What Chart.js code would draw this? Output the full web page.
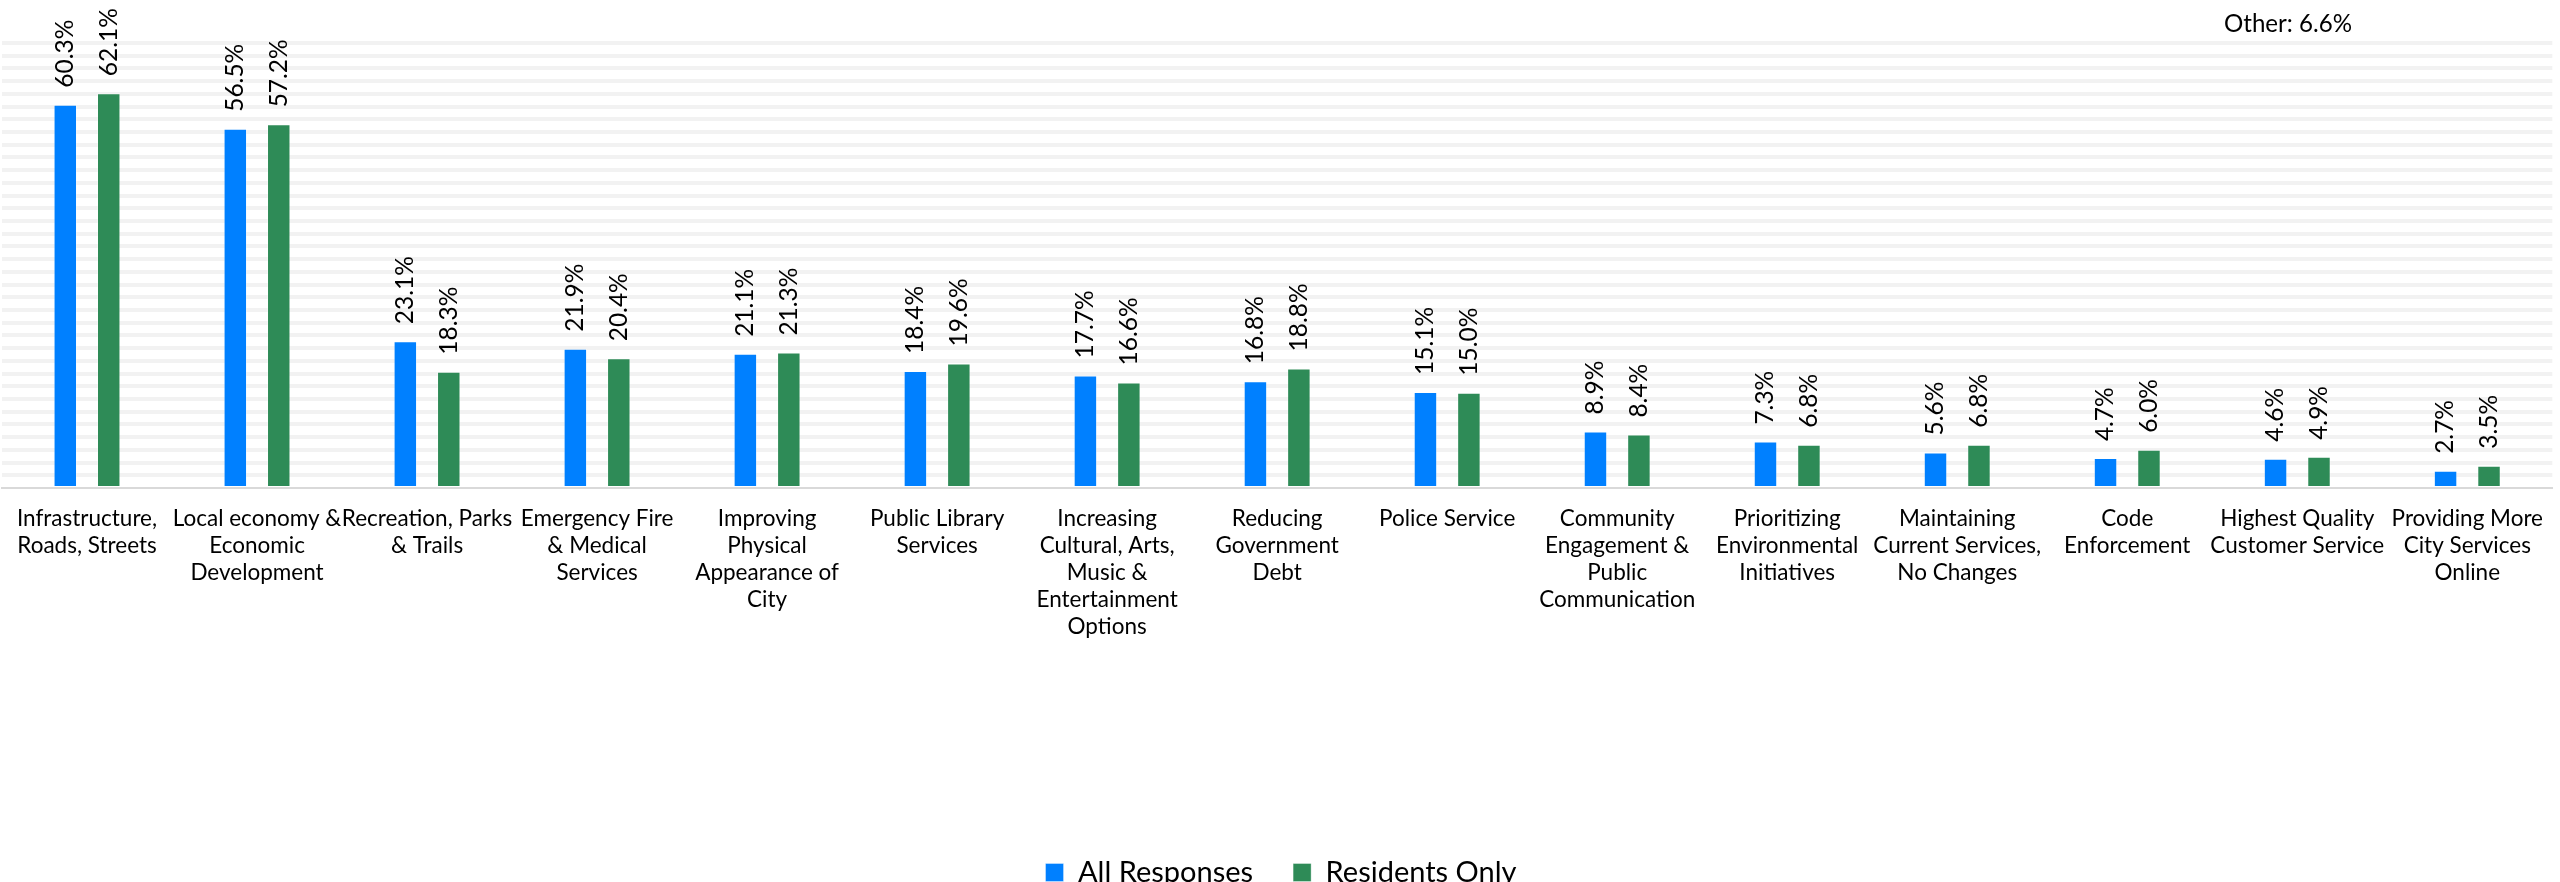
<!DOCTYPE html>
<html>
<head>
<meta charset="utf-8">
<script src="https://cdn.jsdelivr.net/npm/chart.js@4.4.1/dist/chart.umd.min.js"></script>
<style>
  html, body { margin: 0; padding: 0; background: #ffffff; overflow: hidden; }
  #wrap { position: relative; width: 2560px; height: 897px; }
</style>
</head>
<body>
<div id="wrap"><canvas id="c"></canvas></div>
<script>
// ---- data ----
const categories = [
  ["Infrastructure,", "Roads, Streets"],
  ["Local economy &", "Economic", "Development"],
  ["Recreation, Parks", "& Trails"],
  ["Emergency Fire", "& Medical", "Services"],
  ["Improving", "Physical", "Appearance of", "City"],
  ["Public Library", "Services"],
  ["Increasing", "Cultural, Arts,", "Music &", "Entertainment", "Options"],
  ["Reducing", "Government", "Debt"],
  ["Police Service"],
  ["Community", "Engagement &", "Public", "Communication"],
  ["Prioritizing", "Environmental", "Initiatives"],
  ["Maintaining", "Current Services,", "No Changes"],
  ["Code", "Enforcement"],
  ["Highest Quality", "Customer Service"],
  ["Providing More", "City Services", "Online"]
];
const allResponses = [60.3, 56.5, 23.1, 21.9, 21.1, 18.4, 17.7, 16.8, 15.1, 8.9, 7.3, 5.6, 4.7, 4.6, 2.7];
const residentsOnly = [62.1, 57.2, 18.3, 20.4, 21.3, 19.6, 16.6, 18.8, 15.0, 8.4, 6.8, 6.8, 6.0, 4.9, 3.5];
const seriesNames = ["All Responses", "Residents Only"];
const otherNote = "Other: 6.6%";

// ---- font sizing (match reference text widths) ----
const FAMILY = "Lato, 'Open Sans', sans-serif";
const mctx = document.createElement('canvas').getContext('2d');
function fit(text, target) {
  mctx.font = "100px " + FAMILY;
  return Math.round(100 * target / mctx.measureText(text).width * 10) / 10;
}
const catSize = fit("Infrastructure,", 140);
const valSize = fit("60.3%", 68);
const otherSize = fit("Other: 6.6%", 128);
const legendSize = fit("All Responses", 175);

const BLUE = '#0080FF';
const GREEN = '#2E8B57';

const valueLabels = {
  id: 'valueLabels',
  afterDatasetsDraw(chart) {
    const ctx = chart.ctx;
    ctx.save();
    ctx.fillStyle = '#000';
    ctx.font = valSize + "px " + FAMILY;
    ctx.textAlign = 'left';
    ctx.textBaseline = 'middle';
    chart.data.datasets.forEach((ds, di) => {
      const meta = chart.getDatasetMeta(di);
      meta.data.forEach((bar, i) => {
        ctx.save();
        ctx.translate(bar.x, bar.y - 17);
        ctx.rotate(-Math.PI / 2);
        ctx.fillText(ds.data[i].toFixed(1) + '%', 0, 0);
        ctx.restore();
      });
    });
    // note at top right
    ctx.font = otherSize + "px " + FAMILY;
    ctx.textAlign = 'right';
    ctx.textBaseline = 'middle';
    ctx.fillText(otherNote, chart.width - 208, 24);
    ctx.restore();
  }
};

new Chart(document.getElementById('c'), {
  type: 'bar',
  data: {
    labels: categories,
    datasets: [
      { label: seriesNames[0], data: allResponses, backgroundColor: BLUE,
        borderColor: 'rgba(255,255,255,0.35)', borderWidth: 1,
        categoryPercentage: 0.511, barPercentage: 0.54 },
      { label: seriesNames[1], data: residentsOnly, backgroundColor: GREEN,
        borderColor: 'rgba(255,255,255,0.35)', borderWidth: 1,
        categoryPercentage: 0.511, barPercentage: 0.54 }
    ]
  },
  options: {
    responsive: true,
    maintainAspectRatio: false,
    animation: false,
    layout: { padding: { top: 43, left: 2, right: 0, bottom: 0 } },
    plugins: {
      legend: {
        position: 'bottom',
        align: 'center',
        labels: {
          boxWidth: 18, boxHeight: 18, padding: 40,
          color: '#000',
          font: { family: FAMILY, size: legendSize }
        }
      },
      title: { display: false },
      tooltip: { enabled: false }
    },
    scales: {
      x: {
        grid: { display: false, drawTicks: false },
        border: { display: true, color: '#d9d9d9', width: 2 },
        ticks: {
          autoSkip: false, maxRotation: 0, minRotation: 0,
          padding: 17, color: '#000',
          font: { family: FAMILY, size: catSize, lineHeight: 1.2 }
        },
        afterFit(s) { s.height = 330; }
      },
      y: {
        min: 0, max: 70,
        border: { display: false },
        grid: {
          drawTicks: false,
          lineWidth: 4,
          color: (c) => (c.tick && c.tick.value === 0) ? 'rgba(0,0,0,0)' : '#f2f2f2'
        },
        ticks: { display: false, stepSize: 2 },
        afterFit(s) { s.width = 0; }
      }
    }
  },
  plugins: [valueLabels]
});
</script>
</body>
</html>
